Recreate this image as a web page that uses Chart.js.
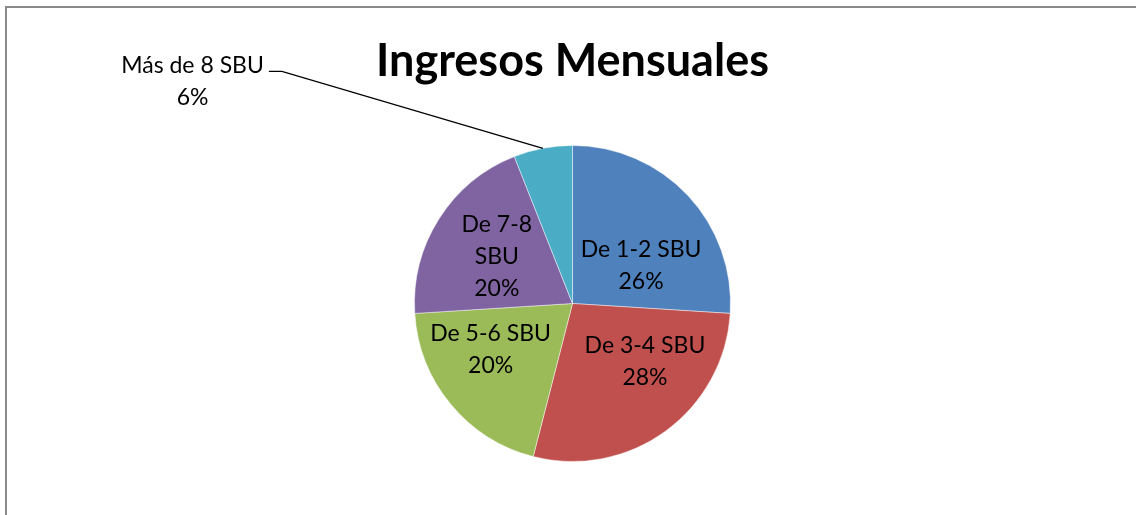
<!DOCTYPE html>
<html>
<head>
<meta charset="utf-8">
<script src="https://cdn.jsdelivr.net/npm/chart.js@4"></script>
<style>
  html, body { margin: 0; padding: 0; background: #fff; overflow: hidden; width: 1136px; height: 515px; }
  #frame { position: absolute; left: 5px; top: 6px; width: 1131px; height: 509px; border-top: 2px solid #8a8a8a; border-left: 2px solid #8a8a8a; box-sizing: border-box; }
  #wrap { position: absolute; left: 0; top: 0; width: 1136px; height: 515px; }
</style>
</head>
<body>
<div id="frame"></div>
<div id="wrap"><canvas id="chart"></canvas></div>
<script>
// Ingresos mensuales - distribución por rango de SBU
const categorias = ['De 1-2 SBU', 'De 3-4 SBU', 'De 5-6 SBU', 'De 7-8 SBU', 'Más de 8 SBU'];
const valores = [26, 28, 20, 20, 6];
const colores = ['#4F81BD', '#C0504D', '#9BBB59', '#8064A2', '#4BACC6'];

const FONT = 'Lato, "Open Sans", sans-serif';

// etiquetas tipo Excel: dentro del sector, salvo la pequeña que va fuera con línea guía
const etiquetasPlugin = {
  id: 'etiquetas',
  afterDatasetsDraw(chart) {
    const ctx = chart.ctx;
    const meta = chart.getDatasetMeta(0);
    const total = valores.reduce((a, b) => a + b, 0);
    // ajustes de posición por etiqueta (como lo colocó Excel)
    const ajuste = [
      { dx: 11, dy: 16, wrap: false },
      { dx: 26, dy: -6, wrap: false },
      { dx: -21, dy: -4, wrap: false },
      { dx: -9, dy: -5, wrap: true },
      { fuera: true }
    ];
    const lh = 32;
    ctx.save();
    ctx.font = '23px ' + FONT;
    ctx.fillStyle = '#000';
    ctx.textAlign = 'center';
    ctx.textBaseline = 'middle';

    meta.data.forEach((arc, i) => {
      const p = arc.getProps(['x', 'y', 'startAngle', 'endAngle', 'outerRadius'], true);
      const mid = (p.startAngle + p.endAngle) / 2;
      const pct = Math.round(valores[i] / total * 100) + '%';
      const a = ajuste[i];

      if (a.fuera) {
        const ax = p.x + Math.cos(mid) * p.outerRadius;
        const ay = p.y + Math.sin(mid) * p.outerRadius;
        const ex = ax - 261, ey = ay - 77;
        const fx = ex - 13;
        ctx.strokeStyle = '#000';
        ctx.lineWidth = 1.3;
        ctx.beginPath();
        ctx.moveTo(ax, ay);
        ctx.lineTo(ex, ey);
        ctx.lineTo(fx, ey);
        ctx.stroke();
        const w = ctx.measureText(categorias[i]).width;
        const cx = fx - 5 - w / 2;
        ctx.fillText(categorias[i], cx, ey - 6);
        ctx.fillText(pct, cx, ey - 6 + lh);
        return;
      }

      let lines;
      if (a.wrap) {
        const k = categorias[i].lastIndexOf(' ');
        lines = [categorias[i].slice(0, k), categorias[i].slice(k + 1), pct];
      } else {
        lines = [categorias[i], pct];
      }
      const cx = p.x + Math.cos(mid) * p.outerRadius / 2 + a.dx;
      const cy = p.y + Math.sin(mid) * p.outerRadius / 2 + a.dy;
      const y0 = cy - (lines.length - 1) * lh / 2;
      lines.forEach((t, j) => ctx.fillText(t, cx, y0 + j * lh));
    });
    ctx.restore();
  }
};

new Chart(document.getElementById('chart'), {
  type: 'pie',
  data: {
    labels: categorias,
    datasets: [{
      data: valores,
      backgroundColor: colores,
      borderColor: 'rgba(255,255,255,0.45)',
      borderWidth: 1
    }]
  },
  options: {
    responsive: true,
    maintainAspectRatio: false,
    animation: false,
    layout: { padding: { left: 9, right: 0, top: 0, bottom: 53 } },
    plugins: {
      legend: { display: false },
      tooltip: { enabled: false },
      title: {
        display: true,
        text: 'Ingresos Mensuales',
        color: '#000',
        font: { family: FONT, size: 45, weight: 'bold', lineHeight: 1.2 },
        padding: { top: 34, bottom: 57 }
      }
    }
  },
  plugins: [etiquetasPlugin]
});
</script>
</body>
</html>
